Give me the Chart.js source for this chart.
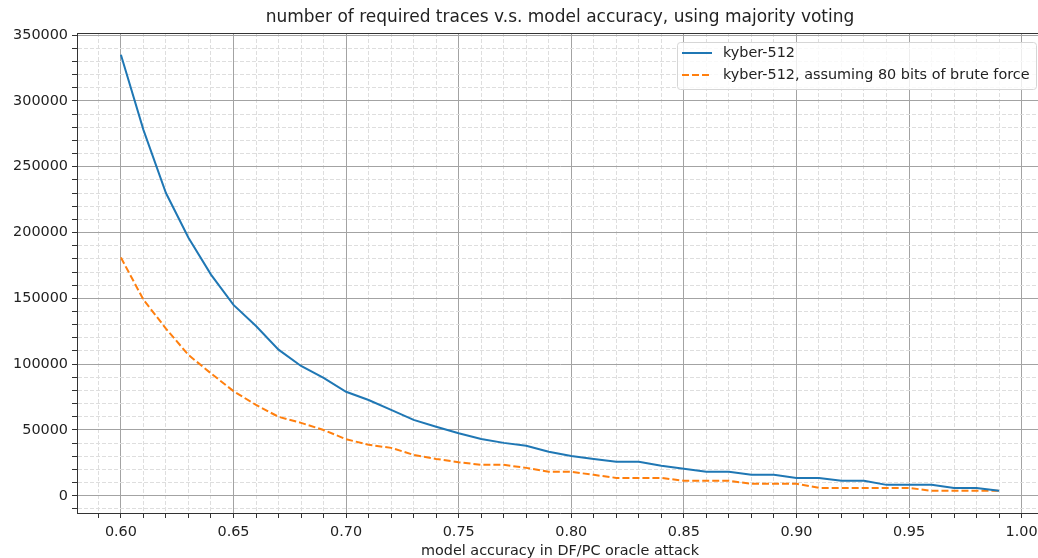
<!DOCTYPE html>
<html lang="en">
<head>
    <meta charset="UTF-8">
    <title>required traces vs model accuracy</title>
    <script src="https://cdn.jsdelivr.net/npm/chart.js"></script>
    <style>
        html, body {
            margin: 0;
            padding: 0;
            width: 1038px;
            height: 558px;
            overflow: hidden;
            background: #fff;
        }
        canvas {
            display: block;
        }
    </style>
</head>
<body>

    <canvas id="tracesChart" width="1050" height="562"></canvas>

    <script>
        // data
        const accuracy = [0.60, 0.61, 0.62, 0.63, 0.64, 0.65, 0.66, 0.67, 0.68, 0.69,
                          0.70, 0.71, 0.72, 0.73, 0.74, 0.75, 0.76, 0.77, 0.78, 0.79,
                          0.80, 0.81, 0.82, 0.83, 0.84, 0.85, 0.86, 0.87, 0.88, 0.89,
                          0.90, 0.91, 0.92, 0.93, 0.94, 0.95, 0.96, 0.97, 0.98, 0.99];
        const kyber512 = [335000, 278000, 230000, 196000, 168000, 145000, 129000, 111000, 98600, 89500,
                          79000, 72800, 65300, 57700, 52400, 47500, 43200, 40200, 38000, 33400,
                          30300, 28000, 25800, 25800, 22800, 20500, 18200, 18200, 15900, 15900,
                          13600, 13600, 11400, 11400, 8300, 8300, 8300, 6000, 6000, 3800];
        const kyber512Brute = [181000, 149000, 127000, 107000, 93000, 79500, 69000, 60000, 55400, 50000,
                               43000, 38700, 36400, 31100, 28000, 25500, 23500, 23500, 21200, 18200,
                               18200, 15900, 13600, 13600, 13600, 11400, 11400, 11400, 9100, 9100,
                               9100, 6000, 6000, 6000, 6000, 6000, 3800, 3800, 3800, 3800];
        const seriesNames = ["kyber-512", "kyber-512, assuming 80 bits of brute force"];
        const xTickLabels = ["0.60", "0.65", "0.70", "0.75", "0.80", "0.85", "0.90", "0.95", "1.00"];
        const yTickLabels = [0, 50000, 100000, 150000, 200000, 250000, 300000, 350000];

        const chartTitle = "number of required traces v.s. model accuracy, using majority voting";
        const xTitle = "model accuracy in DF/PC oracle attack";

        const FONT = "'DejaVu Sans', sans-serif";
        const BLUE = "#1f77b4";
        const ORANGE = "#ff7f0e";

        const xMajors = xTickLabels.map(Number);
        const isXMajor = v => xMajors.some(m => Math.abs(m - v) < 1e-6);
        const isYMajor = v => yTickLabels.includes(v);

        // title, top spine and the framed legend
        const decorations = {
            id: "decorations",
            afterDraw(chart) {
                const { ctx, chartArea: a } = chart;
                ctx.save();

                ctx.strokeStyle = "#333";
                ctx.lineWidth = 1;
                ctx.beginPath();
                ctx.moveTo(a.left, a.top + 0.5);
                ctx.lineTo(a.right, a.top + 0.5);
                ctx.stroke();

                ctx.fillStyle = "#222";
                ctx.font = "17px " + FONT;
                ctx.textAlign = "center";
                ctx.textBaseline = "middle";
                ctx.fillText(chartTitle, (a.left + a.right) / 2, 18);

                // legend box
                const boxR = a.right - 7, boxT = a.top + 9, boxW = 359, boxH = 47;
                const boxL = boxR - boxW;
                ctx.beginPath();
                ctx.roundRect(boxL + 0.5, boxT + 0.5, boxW, boxH, 3);
                ctx.fillStyle = "rgba(255,255,255,0.8)";
                ctx.fill();
                ctx.strokeStyle = "#d6d6d6";
                ctx.stroke();

                ctx.font = "14.4px " + FONT;
                ctx.textAlign = "left";
                chart.data.datasets.forEach((ds, i) => {
                    const y = boxT + 11 + i * 22;
                    ctx.strokeStyle = ds.borderColor;
                    ctx.lineWidth = 2;
                    ctx.setLineDash(ds.borderDash || []);
                    ctx.beginPath();
                    ctx.moveTo(boxL + 5, y);
                    ctx.lineTo(boxL + 35, y);
                    ctx.stroke();
                    ctx.setLineDash([]);
                    ctx.fillStyle = "#222";
                    ctx.fillText(ds.label, boxL + 46, y);
                });
                ctx.restore();
            }
        };

        new Chart(document.getElementById("tracesChart"), {
            type: "line",
            data: {
                datasets: [{
                    label: seriesNames[0],
                    data: accuracy.map((x, i) => ({ x: x, y: kyber512[i] })),
                    borderColor: BLUE,
                    borderWidth: 2,
                    pointRadius: 0,
                    tension: 0
                }, {
                    label: seriesNames[1],
                    data: accuracy.map((x, i) => ({ x: x, y: kyber512Brute[i] })),
                    borderColor: ORANGE,
                    borderWidth: 2,
                    borderDash: [7, 3],
                    pointRadius: 0,
                    tension: 0
                }]
            },
            options: {
                responsive: false,
                animation: false,
                devicePixelRatio: 1,
                layout: { padding: { top: 33, right: 7, left: 0, bottom: 0 } },
                plugins: {
                    legend: { display: false },
                    title: { display: false },
                    tooltip: { enabled: false }
                },
                scales: {
                    x: {
                        type: "linear",
                        min: 0.5805,
                        max: 1.0095,
                        afterBuildTicks: scale => {
                            const ticks = [];
                            for (let i = 59; i <= 100; i++) ticks.push({ value: i / 100 });
                            scale.ticks = ticks;
                        },
                        afterFit: scale => { scale.height = 49; },
                        ticks: {
                            autoSkip: false,
                            maxRotation: 0,
                            padding: 6,
                            color: "#222",
                            font: { family: FONT, size: 14.4 },
                            callback: v => isXMajor(v) ? v.toFixed(2) : ""
                        },
                        grid: {
                            color: c => c.tick && isXMajor(c.tick.value) ? "#a3a3a3" : "#dedede",
                            lineWidth: 1,
                            tickColor: "#333",
                            tickLength: 5
                        },
                        border: {
                            display: true,
                            color: "#333",
                            width: 1,
                            dash: c => c.tick && !isXMajor(c.tick.value) ? [4, 2] : []
                        },
                        title: {
                            display: true,
                            text: xTitle,
                            color: "#222",
                            font: { family: FONT, size: 14.4 },
                            padding: { top: 0, bottom: 2 }
                        }
                    },
                    y: {
                        type: "linear",
                        min: -13075,
                        max: 351575,
                        afterBuildTicks: scale => {
                            const ticks = [];
                            for (let v = -10000; v <= 350000; v += 10000) ticks.push({ value: v });
                            scale.ticks = ticks;
                        },
                        afterFit: scale => { scale.width = 77; },
                        ticks: {
                            autoSkip: false,
                            padding: 4,
                            color: "#222",
                            font: { family: FONT, size: 14.4 },
                            callback: v => isYMajor(v) ? String(v) : ""
                        },
                        grid: {
                            color: c => c.tick && isYMajor(c.tick.value) ? "#a3a3a3" : "#dedede",
                            lineWidth: 1,
                            tickColor: "#333",
                            tickLength: 5
                        },
                        border: {
                            display: true,
                            color: "#333",
                            width: 1,
                            dash: c => c.tick && !isYMajor(c.tick.value) ? [4, 2] : []
                        }
                    }
                }
            },
            plugins: [decorations]
        });
    </script>

</body>
</html>
